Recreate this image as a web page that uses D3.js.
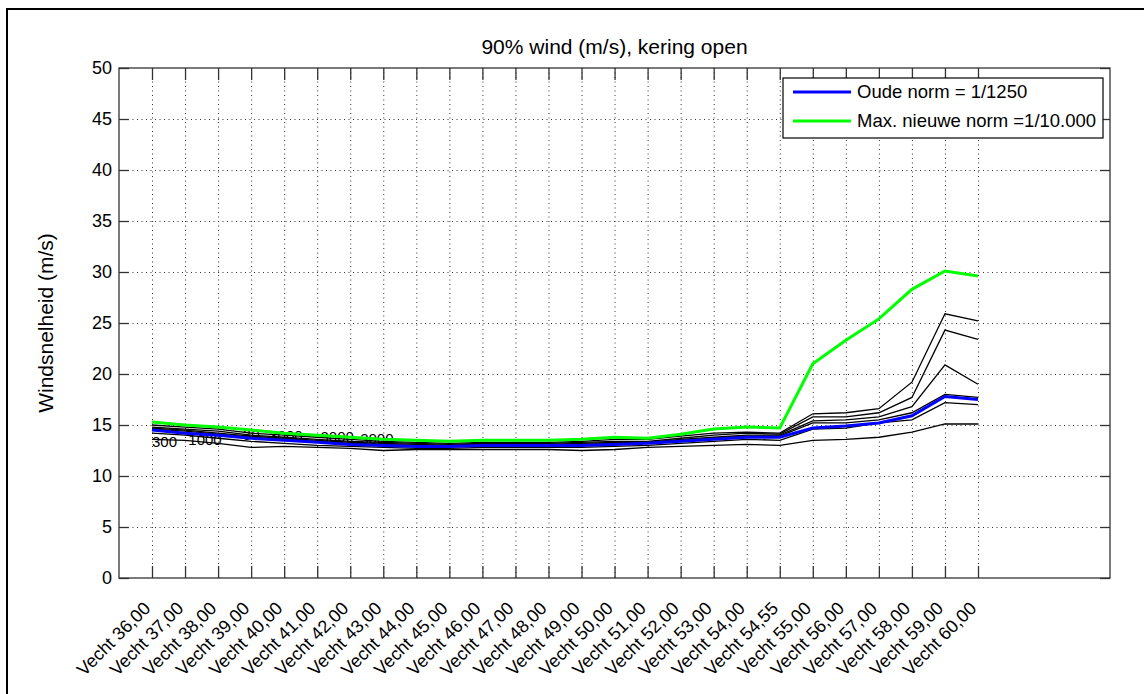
<!DOCTYPE html>
<html><head><meta charset="utf-8">
<script src="https://cdn.jsdelivr.net/npm/d3@7"></script>
<style>
body{margin:0;background:#fff}
svg{display:block}
text{font-family:"Liberation Sans",Arial,Helvetica,sans-serif;fill:#000}
</style>
</head><body>
<svg id="chart" width="1144" height="694"></svg>
<script>
// ---------------- DATA ----------------
const categories = ["Vecht 36,00","Vecht 37,00","Vecht 38,00","Vecht 39,00","Vecht 40,00","Vecht 41,00",
  "Vecht 42,00","Vecht 43,00","Vecht 44,00","Vecht 45,00","Vecht 46,00","Vecht 47,00","Vecht 48,00",
  "Vecht 49,00","Vecht 50,00","Vecht 51,00","Vecht 52,00","Vecht 53,00","Vecht 54,00","Vecht 54,55",
  "Vecht 55,00","Vecht 56,00","Vecht 57,00","Vecht 58,00","Vecht 59,00","Vecht 60,00"];

const oudeNorm = [14.5,14.2,14.0,13.7,13.5,13.3,13.1,13.0,12.9,12.9,13.0,13.0,13.0,13.0,13.1,13.2,13.4,13.6,13.8,13.8,14.7,14.9,15.2,15.9,17.8,17.5];
const nieuweNorm = [15.3,15.0,14.8,14.5,14.2,14.0,13.8,13.6,13.5,13.4,13.5,13.5,13.5,13.6,13.8,13.7,14.1,14.6,14.8,14.7,21.0,23.3,25.4,28.3,30.1,29.6];

const contour1 = [13.6,13.5,13.2,12.8,12.9,12.8,12.7,12.5,12.6,12.6,12.6,12.6,12.6,12.5,12.6,12.8,12.9,13.0,13.1,13.0,13.5,13.6,13.8,14.3,15.1,15.1];
const contour2 = [14.2,14.0,13.7,13.4,13.2,13.0,12.9,12.8,12.7,12.7,12.8,12.8,12.8,12.8,12.9,13.0,13.2,13.4,13.6,13.5,14.6,14.7,15.2,15.5,17.2,17.0];
const contour3 = [14.6,14.4,14.1,13.8,13.6,13.4,13.2,13.1,13.0,13.0,13.1,13.1,13.1,13.1,13.2,13.3,13.5,13.7,13.9,13.9,15.2,15.2,15.5,16.2,18.0,17.7];
const contour4 = [14.7,14.5,14.2,13.9,13.7,13.5,13.3,13.2,13.1,13.0,13.1,13.1,13.1,13.2,13.3,13.3,13.6,13.8,14.0,14.0,15.4,15.5,15.8,16.8,20.9,19.0];
const contour5 = [14.8,14.6,14.4,14.0,13.8,13.6,13.4,13.3,13.2,13.1,13.2,13.2,13.2,13.3,13.4,13.4,13.7,14.0,14.2,14.1,15.8,15.8,16.2,17.7,24.3,23.4];
const contour6 = [15.0,14.8,14.6,14.2,14.0,13.8,13.6,13.4,13.3,13.2,13.3,13.3,13.3,13.4,13.6,13.6,13.9,14.2,14.3,14.2,16.1,16.2,16.6,19.2,25.9,25.2];

const contourLabelTexts = ["300","1000","30","3000","3000","3000"];
const contourLabelPos   = [0.0, 1.1, 2.75, 3.55, 5.1, 6.3];
const contourLabelVals  = [13.4, 13.6, 14.0, 13.9, 13.8, 13.7];

const yTicks = [0,5,10,15,20,25,30,35,40,45,50];
const legendLabels = ["Oude norm = 1/1250","Max. nieuwe norm =1/10.000"];
const titleText = "90% wind (m/s), kering open";
const yLabelText = "Windsnelheid (m/s)";

// ---------------- CHART ----------------
const svg = d3.select("#chart");
const L = 119, R = 1110, T = 68, B = 578;

// figure frame
svg.append("rect").attr("x",7).attr("y",9).attr("width",1200).attr("height",800)
  .attr("fill","none").attr("stroke","#000").attr("stroke-width",2);

const x = d3.scalePoint().domain(d3.range(categories.length)).range([152, 978]);
const xi = d3.scaleLinear().domain([0, categories.length-1]).range([152, 978]);
const y = d3.scaleLinear().domain([0, 50]).range([B, T]);

// grid
const grid = svg.append("g").attr("stroke","#333").attr("stroke-width",1).attr("stroke-dasharray","1,3.5");
categories.forEach((c,i)=>{
  grid.append("line").attr("x1",x(i)+0.5).attr("x2",x(i)+0.5).attr("y1",T).attr("y2",B);
});
yTicks.filter(t=>t>0&&t<50).forEach(t=>{
  grid.append("line").attr("x1",L).attr("x2",R).attr("y1",Math.round(y(t))+0.5).attr("y2",Math.round(y(t))+0.5);
});

// axes (bottom/left with labels, top/right ticks only)
const axisColor = "#333";
const gB = svg.append("g").attr("transform",`translate(0,${B})`).call(d3.axisBottom(x).tickSize(-12).tickFormat(""));
const gT = svg.append("g").attr("transform",`translate(0,${T})`).call(d3.axisTop(x).tickSize(-12).tickFormat(""));
const gL = svg.append("g").attr("transform",`translate(${L},0)`).call(d3.axisLeft(y).tickValues(yTicks).tickSize(-10).tickPadding(8));
const gR = svg.append("g").attr("transform",`translate(${R},0)`).call(d3.axisRight(y).tickValues(yTicks).tickSize(-10).tickFormat(""));
[gB,gT,gL,gR].forEach(g=>{
  g.select(".domain").remove();
  g.selectAll(".tick line").attr("stroke",axisColor).attr("stroke-width",1.3);
});
gL.selectAll(".tick text").attr("font-size",18).attr("fill","#000").attr("font-family","Liberation Sans, Arial, sans-serif").attr("x",-7);

svg.append("rect").attr("x",L).attr("y",T).attr("width",R-L).attr("height",B-T)
  .attr("fill","none").attr("stroke",axisColor).attr("stroke-width",1.3);

// x labels rotated
svg.append("g").selectAll("text").data(categories).join("text")
  .attr("transform",(d,i)=>`translate(${x(i)-5},${B+27}) rotate(-45)`)
  .attr("text-anchor","end").attr("dy","0.35em").attr("font-size",18).text(d=>d);

// lines
const line = d3.line().x((d,i)=>x(i)).y(d=>y(d));
[contour1,contour2,contour3,contour4,contour5,contour6].forEach(s=>{
  svg.append("path").datum(s).attr("d",line).attr("fill","none").attr("stroke","#000").attr("stroke-width",1.3);
});

// contour labels
svg.append("g").selectAll("text").data(contourLabelTexts).join("text")
  .attr("x",(d,i)=>xi(contourLabelPos[i])).attr("y",(d,i)=>y(contourLabelVals[i]))
  .attr("dy","0.35em").attr("font-size",15).text(d=>d);

svg.append("path").datum(oudeNorm).attr("d",line).attr("fill","none").attr("stroke","#0000ff").attr("stroke-width",3);
svg.append("path").datum(nieuweNorm).attr("d",line).attr("fill","none").attr("stroke","#00ff00").attr("stroke-width",3);

// title
svg.append("text").attr("x",(L+R)/2).attr("y",54).attr("text-anchor","middle").attr("font-size",21).text(titleText);
// y label
svg.append("text").attr("transform",`translate(53,${(T+B)/2}) rotate(-90)`).attr("text-anchor","middle").attr("font-size",21).text(yLabelText);

// legend
const lg = svg.append("g");
lg.append("rect").attr("x",783).attr("y",78).attr("width",320).attr("height",60).attr("fill","#fff").attr("stroke","#000").attr("stroke-width",1.2);
const legColors = ["#0000ff","#00ff00"];
legendLabels.forEach((t,i)=>{
  const yy = 92 + i*29;
  lg.append("line").attr("x1",793).attr("x2",851).attr("y1",yy).attr("y2",yy).attr("stroke",legColors[i]).attr("stroke-width",3);
  lg.append("text").attr("x",857).attr("y",yy).attr("dy","0.35em").attr("font-size",18.5).text(t);
});
</script>
</body></html>
